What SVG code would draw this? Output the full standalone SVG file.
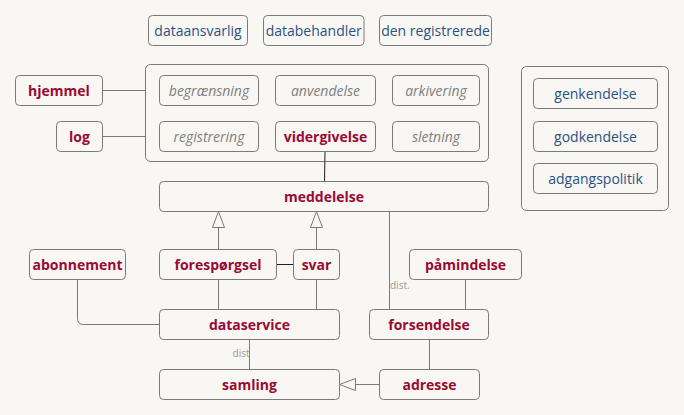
<svg xmlns="http://www.w3.org/2000/svg" width="684" height="415" viewBox="0 0 684 415">
<defs>
<style>
.bg{fill:#f8f7f3}
.n{fill:#f8f7f3;stroke:#7a7a7a;stroke-width:1}
.g{fill:none;stroke:#7a7a7a;stroke-width:1}
.t{font-family:"Open Sans","Noto Sans",sans-serif;font-size:14px;text-anchor:middle;dominant-baseline:central}
.r{fill:#9a0a33;font-weight:bold}
.b{fill:#2b5183}
.i{fill:#808080;font-style:italic}
.e{fill:none;stroke:#7a7a7a;stroke-width:1}
.k{fill:none;stroke:#222;stroke-width:1}
.lbl{font-family:"Open Sans","Noto Sans",sans-serif;font-size:10px;fill:#999}
.tri{fill:#f8f7f3;stroke:#7a7a7a;stroke-width:1}
</style>
</defs>
<rect class="bg" x="0" y="0" width="684" height="415"/>
<g id="groups">
<rect class="g" x="145.5" y="64.5" width="343" height="97" rx="5"/>
<rect class="g" x="521.5" y="66.5" width="147" height="144" rx="5"/>
</g>
<g id="connectors">
<path class="e" d="M102.5 90.5H145.5"/>
<path class="e" d="M102.5 136.5H145.5"/>
<path class="k" d="M325 151.5L324.5 181.5"/>
<path class="e" d="M218.5 227.5V249.5"/>
<polygon class="tri" points="218.5,211.5 212.5,227.5 224.5,227.5"/>
<path class="e" d="M316.5 227.5V249.5"/>
<polygon class="tri" points="316.5,211.5 310.5,227.5 322.5,227.5"/>
<path class="k" d="M276.5 264.5H293.5"/>
<path class="e" d="M218.5 279.5V309.5"/>
<path class="e" d="M316.5 279.5V309.5"/>
<path class="e" d="M77.5 279.5V318.5Q77.5 324.5 83.5 324.5H159.5"/>
<path class="e" d="M389.5 211.5V309.5"/>
<text class="lbl" x="390" y="289">dist.</text>
<path class="e" d="M465.5 279.5V309.5"/>
<path class="e" d="M249.5 339.5V369.5"/>
<text class="lbl" x="249.5" y="356.5" text-anchor="end">dist</text>
<path class="e" d="M429.5 339.5V369.5"/>
<path class="e" d="M355.5 384.5H379.5"/>
<polygon class="tri" points="339.5,384.5 355.5,378.5 355.5,390.5"/>
</g>
<g id="dataansvarlig"><rect class="n" x="148.5" y="15.5" width="99" height="30" rx="4"/><text class="t b" x="198" y="30.5">dataansvarlig</text></g>
<g id="databehandler"><rect class="n" x="263.5" y="15.5" width="100.5" height="30" rx="4"/><text class="t b" x="313.75" y="30.5">databehandler</text></g>
<g id="den-registrerede"><rect class="n" x="379.5" y="15.5" width="112" height="30" rx="4"/><text class="t b" x="435.5" y="30.5">den registrerede</text></g>
<g id="hjemmel"><rect class="n" x="15.5" y="75.5" width="87" height="30" rx="4"/><text class="t r" x="59" y="90.5">hjemmel</text></g>
<g id="log"><rect class="n" x="56.5" y="121.5" width="46" height="30" rx="4"/><text class="t r" x="79.5" y="136.5">log</text></g>
<g id="begraensning"><rect class="n" x="159.5" y="75.5" width="99" height="30" rx="4"/><text class="t i" x="209" y="90.5">begrænsning</text></g>
<g id="anvendelse"><rect class="n" x="275.5" y="75.5" width="100" height="30" rx="4"/><text class="t i" x="325.5" y="90.5">anvendelse</text></g>
<g id="arkivering"><rect class="n" x="392.5" y="75.5" width="87" height="30" rx="4"/><text class="t i" x="436" y="90.5">arkivering</text></g>
<g id="registrering"><rect class="n" x="159.5" y="121.5" width="99" height="30" rx="4"/><text class="t i" x="209" y="136.5">registrering</text></g>
<g id="vidergivelse"><rect class="n" x="275.5" y="121.5" width="100" height="30" rx="4"/><text class="t r" x="325.5" y="136.5">vidergivelse</text></g>
<g id="sletning"><rect class="n" x="392.5" y="121.5" width="87" height="30" rx="4"/><text class="t i" x="436" y="136.5">sletning</text></g>
<g id="genkendelse"><rect class="n" x="533.5" y="78.5" width="124" height="30" rx="4"/><text class="t b" x="595.5" y="93.5">genkendelse</text></g>
<g id="godkendelse"><rect class="n" x="533.5" y="121.5" width="124" height="30" rx="4"/><text class="t b" x="595.5" y="136.5">godkendelse</text></g>
<g id="adgangspolitik"><rect class="n" x="533.5" y="163.5" width="124" height="30" rx="4"/><text class="t b" x="595.5" y="178.5">adgangspolitik</text></g>
<g id="meddelelse"><rect class="n" x="159.5" y="181.5" width="329" height="30" rx="4"/><text class="t r" x="324" y="196.5">meddelelse</text></g>
<g id="abonnement"><rect class="n" x="29.5" y="249.5" width="96" height="30" rx="4"/><text class="t r" x="77.5" y="264.5">abonnement</text></g>
<g id="forespoergsel"><rect class="n" x="159.5" y="249.5" width="117" height="30" rx="4"/><text class="t r" x="218" y="264.5">forespørgsel</text></g>
<g id="svar"><rect class="n" x="293.5" y="249.5" width="46" height="30" rx="4"/><text class="t r" x="316.5" y="264.5">svar</text></g>
<g id="paamindelse"><rect class="n" x="409.5" y="249.5" width="112" height="30" rx="4"/><text class="t r" x="465.5" y="264.5">påmindelse</text></g>
<g id="dataservice"><rect class="n" x="159.5" y="309.5" width="180" height="30" rx="4"/><text class="t r" x="249.5" y="324.5">dataservice</text></g>
<g id="forsendelse"><rect class="n" x="369.5" y="309.5" width="119" height="30" rx="4"/><text class="t r" x="429" y="324.5">forsendelse</text></g>
<g id="samling"><rect class="n" x="159.5" y="369.5" width="180" height="30" rx="4"/><text class="t r" x="249.5" y="384.5">samling</text></g>
<g id="adresse"><rect class="n" x="379.5" y="369.5" width="100" height="30" rx="4"/><text class="t r" x="429.5" y="384.5">adresse</text></g>
</svg>
